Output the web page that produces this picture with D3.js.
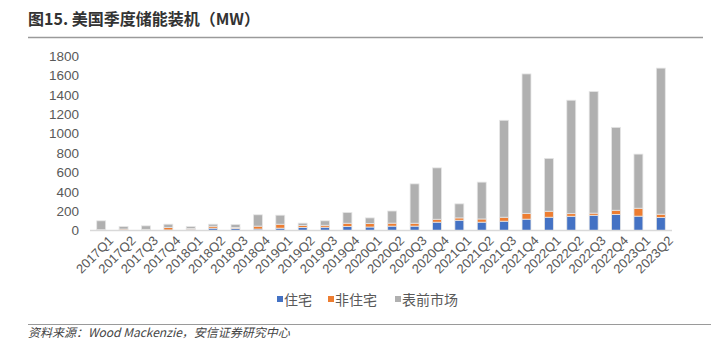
<!DOCTYPE html>
<html><head><meta charset="utf-8">
<script src="https://cdn.jsdelivr.net/npm/d3@7"></script>
<style>
html,body{margin:0;padding:0;background:#fff;}
svg{display:block;}
</style></head>
<body>
<svg id="c" width="717" height="344"></svg>
<script>
const categories = ["2017Q1","2017Q2","2017Q3","2017Q4","2018Q1","2018Q2","2018Q3","2018Q4","2019Q1","2019Q2","2019Q3","2019Q4","2020Q1","2020Q2","2020Q3","2020Q4","2021Q1","2021Q2","2021Q3","2021Q4","2022Q1","2022Q2","2022Q3","2022Q4","2023Q1","2023Q2"];
const residential = [2,3,2,5,12,24,20,15,24,31,34,41,36,45,45,86,106,86,96,117,137,147,157,166,148,134];
const nonResidential = [6,12,10,25,10,20,12,30,41,20,20,34,36,31,30,30,24,33,41,60,62,27,22,43,82,34];
const frontOfMeter = [92,26,36,35,19,21,30,117,93,25,46,111,58,125,406,530,145,380,1000,1438,545,1170,1255,855,558,1507];
const seriesNames = ["住宅","非住宅","表前市场"];
const yTicks = [0,200,400,600,800,1000,1200,1400,1600,1800];
const titleText = "图15. 美国季度储能装机（MW）";
const sourceText = "资料来源：Wood Mackenzie，安信证券研究中心";

(function(){
const colors = ["#4472C4","#ED7D31","#B0B0B0"];
const svg = d3.select("#c");
const mLeft = 90, mRight = 672, mTop = 56, mBottom = 230.5;

const rows = categories.map((c,i)=>({cat:c, s0:residential[i], s1:nonResidential[i], s2:frontOfMeter[i]}));
const stack = d3.stack().keys(["s0","s1","s2"])(rows);

const x = d3.scaleBand().domain(categories).range([mLeft,mRight]).paddingInner(0.6).paddingOuter(0.3);
const y = d3.scaleLinear().domain([0,1800]).range([mBottom, mTop]);

// title
svg.append("text").attr("x",28).attr("y",25)
  .attr("font-family","'Noto Sans CJK SC', sans-serif").attr("font-size",16).attr("font-weight","bold")
  .attr("fill","#333").text(titleText);
svg.append("line").attr("x1",28).attr("x2",703).attr("y1",37.5).attr("y2",37.5)
  .attr("stroke","#9a9a9a").attr("stroke-width",1.5);

// bars
const g = svg.append("g");
stack.forEach((layer,k)=>{
  g.selectAll(null).data(layer).enter().append("rect")
    .attr("x",d=>x(d.data.cat))
    .attr("width",x.bandwidth())
    .attr("y",d=>y(d[1]))
    .attr("height",d=>Math.max(0,y(d[0])-y(d[1])))
    .attr("fill",colors[k])
    .attr("stroke","#e6e6e6").attr("stroke-width",0.8);
});

// x axis line
svg.append("line").attr("x1",mLeft).attr("x2",mRight).attr("y1",mBottom).attr("y2",mBottom)
  .attr("stroke","#D9D9D9").attr("stroke-width",1.5);

// y axis
const yAxis = d3.axisLeft(y).tickValues(yTicks).tickFormat(d3.format("d")).tickSize(0).tickPadding(0);
const ya = svg.append("g").attr("transform","translate(79,0)").call(yAxis);
ya.select(".domain").remove();
ya.selectAll("text").attr("font-family","'Liberation Sans', Arial, sans-serif").attr("font-size",13.5).attr("fill","#595959");

// x axis labels
const xAxis = d3.axisBottom(x).tickSize(0).tickPadding(0);
const xa = svg.append("g").attr("transform",`translate(0,${mBottom})`).call(xAxis);
xa.select(".domain").remove();
xa.selectAll("text")
  .attr("font-family","'Liberation Sans', Arial, sans-serif").attr("font-size",13).attr("fill","#595959")
  .attr("text-anchor","end").attr("dy",null).attr("y",null)
  .attr("transform","translate(13,11) rotate(-45)");

// legend
const legX = [277, 328, 395];
const lg = svg.append("g");
seriesNames.forEach((n,k)=>{
  lg.append("rect").attr("x",legX[k]).attr("y",296).attr("width",6).attr("height",6).attr("fill",colors[k]);
  lg.append("text").attr("x",legX[k]+7).attr("y",305)
    .attr("font-family","'Noto Sans CJK SC', sans-serif").attr("font-size",14).attr("fill","#595959").text(n);
});

// source
svg.append("line").attr("x1",28).attr("x2",711).attr("y1",324.5).attr("y2",324.5)
  .attr("stroke","#9a9a9a").attr("stroke-width",1);
svg.append("text").attr("x",28).attr("y",337)
  .attr("font-family","'Noto Sans CJK SC', sans-serif").attr("font-size",12).attr("font-style","italic")
  .attr("fill","#444").text(sourceText);
})();
</script>
</body></html>
